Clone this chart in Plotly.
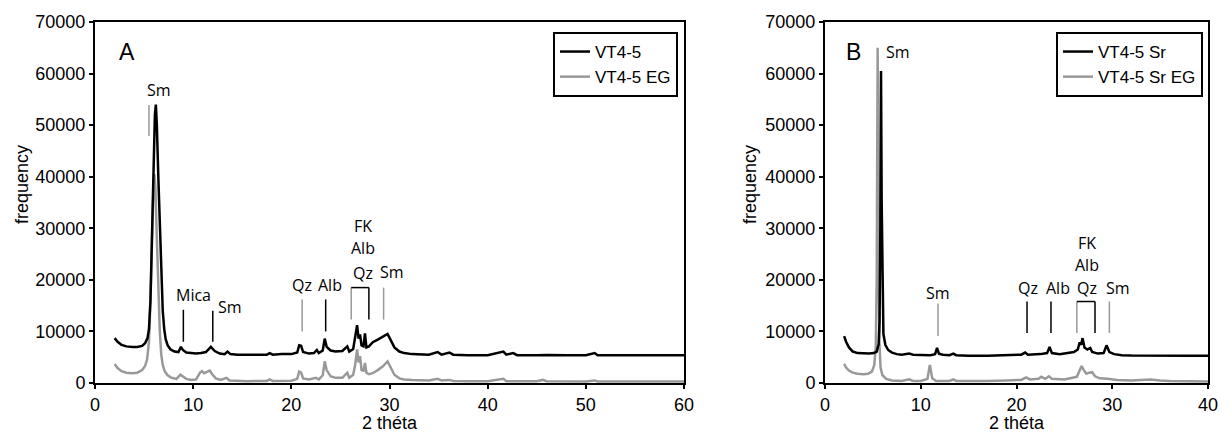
import plotly.graph_objects as go

# ---------------- Panel A data ----------------
a_black_x = [2.0, 2.3, 2.7, 3.2, 3.8, 4.3, 4.8, 5.1, 5.35, 5.5, 5.65, 5.8, 5.95, 6.1, 6.2, 6.3, 6.45, 6.6, 6.75, 6.9,
             7.05, 7.2, 7.4, 7.7, 8.1, 8.5, 8.75, 8.95, 9.3, 9.8, 10.3, 10.8, 11.3, 11.8, 12.2, 12.7, 13.2, 13.5, 13.8,
             14.5, 15.0, 15.5, 16.5, 17.5, 17.8, 18.1, 19.0, 20.0, 20.6, 20.8, 21.0, 21.2, 21.8, 22.3, 22.6, 22.8,
             23.2, 23.4, 23.6, 24.0, 24.5, 25.2, 25.7, 25.9, 26.3, 26.5, 26.7, 26.85, 27.0, 27.15, 27.35, 27.5, 27.65,
             27.9, 28.3, 28.8, 29.3, 29.8, 30.1, 30.5, 31.0, 31.5, 32.3, 33.0, 34.0, 34.9, 35.3, 36.1, 36.5, 38.0,
             40.0, 41.6, 41.9, 42.6, 43.0, 45.0, 46.0, 48.0, 50.0, 50.9, 51.2, 53.0, 55.0, 57.0, 60.0]
a_black_y = [8700, 8000, 7400, 7100, 7000, 7000, 7200, 7700, 8700, 10500, 16000, 28000, 42000, 52000, 54000, 50000,
             40000, 30000, 21000, 14000, 10500, 8500, 7300, 6500, 6100, 6000, 7000, 6400, 5900, 5800, 5700, 5800,
             6000, 7000, 6200, 5700, 5600, 6100, 5600, 5500, 5500, 5400, 5500, 5500, 5800, 5500, 5600, 5600, 5900,
             7300, 7200, 6000, 5700, 5800, 6400, 5800, 6300, 8600, 7000, 6300, 6100, 6200, 7100, 6100, 6600, 8600,
             11200, 8600, 9400, 7300, 7100, 9600, 6900, 7100, 7900, 8400, 8900, 9500, 8400, 6900, 6100, 5800, 5600,
             5500, 5500, 6000, 5500, 5900, 5500, 5400, 5400, 6100, 5500, 5800, 5400, 5400, 5450, 5400, 5400, 5800,
             5400, 5400, 5400, 5400, 5400]

a_grey_x = [2.0, 2.3, 2.7, 3.2, 3.8, 4.3, 4.8, 5.1, 5.3, 5.5, 5.65, 5.8, 5.95, 6.05, 6.15, 6.3, 6.45, 6.6, 6.75, 6.9,
            7.1, 7.4, 7.8, 8.3, 8.7, 8.9, 9.3, 9.8, 10.3, 10.7, 10.9, 11.1, 11.4, 11.7, 11.9, 12.3, 12.8, 13.4, 13.7,
            14.5, 15.5, 17.5, 17.8, 18.1, 19.0, 20.0, 20.6, 20.8, 21.0, 21.2, 21.8, 22.5, 22.8, 23.2, 23.4, 23.6,
            24.0, 24.5, 25.2, 25.7, 25.9, 26.3, 26.5, 26.7, 26.85, 27.0, 27.15, 27.35, 27.5, 27.65, 27.9, 28.3, 28.8,
            29.3, 29.8, 30.1, 30.5, 31.0, 31.5, 32.3, 33.0, 34.0, 34.9, 35.3, 36.1, 36.5, 38.0, 40.0, 41.6, 41.9,
            45.0, 45.6, 46.0, 48.0, 50.0, 50.9, 51.2, 55.0, 60.0]
a_grey_y = [3700, 2900, 2300, 2000, 1900, 2000, 2500, 3300, 4500, 8000, 16000, 28000, 38000, 40500, 38000, 28000,
            18000, 10000, 5500, 3500, 2300, 1500, 1000, 800, 1600, 1300, 800, 600, 700, 2000, 2300, 1900, 2200, 2400,
            1800, 900, 600, 1000, 500, 400, 350, 400, 700, 400, 400, 450, 800, 2200, 2000, 900, 700, 1000, 700,
            1500, 4200, 2500, 1300, 1000, 1000, 2000, 1000, 1600, 3500, 6500, 4000, 5200, 2500, 2400, 3900, 2000,
            1700, 1900, 2500, 3200, 4200, 3000, 1600, 900, 700, 600, 500, 500, 800, 500, 600, 400, 350, 350, 800,
            350, 350, 600, 350, 300, 300, 500, 300, 300, 300]

# ---------------- Panel B data ----------------
b_black_x = [2.0, 2.2, 2.5, 2.9, 3.4, 4.0, 4.6, 5.1, 5.4, 5.6, 5.7, 5.78, 5.85, 5.92, 6.0, 6.1, 6.3, 6.6, 7.0, 7.5,
             8.0, 8.8, 9.2, 10.0, 11.0, 11.5, 11.7, 11.9, 12.3, 13.0, 13.4, 13.7, 15.0, 17.0, 19.0, 20.5, 20.9, 21.2,
             22.5, 23.2, 23.45, 23.7, 24.5, 25.5, 26.0, 26.4, 26.6, 26.75, 26.9, 27.1, 27.4, 27.7, 27.9, 28.5, 29.1,
             29.4, 29.7, 30.2, 31.0, 32.0, 34.0, 36.0, 38.0, 40.0]
b_black_y = [9100, 8000, 6900, 6100, 5800, 5700, 5700, 5800, 6100, 7500, 12000, 30000, 60500, 35000, 15000, 9500,
             7400, 6400, 5900, 5600, 5500, 5700, 5500, 5400, 5400, 5600, 6800, 5700, 5500, 5400, 5700, 5400, 5300,
             5300, 5400, 5500, 5900, 5500, 5600, 5800, 7000, 5800, 5600, 5800, 6000, 6500, 7900, 7400, 8700, 6900,
             6500, 6800, 6000, 5700, 5800, 7300, 6000, 5600, 5400, 5350, 5300, 5300, 5300, 5300]

b_grey_x = [2.0, 2.2, 2.5, 2.9, 3.4, 4.0, 4.5, 4.9, 5.15, 5.3, 5.4, 5.5, 5.58, 5.68, 5.8, 6.0, 6.4, 7.0, 8.0, 8.8,
            9.2, 10.0, 10.7, 10.95, 11.2, 11.6, 13.0, 13.4, 13.7, 15.0, 17.0, 19.0, 20.5, 21.0, 21.4, 22.3, 22.6,
            23.0, 23.4, 23.7, 25.0, 26.3, 26.6, 26.8, 27.0, 27.3, 27.6, 27.9, 28.2, 28.7, 29.5, 30.5, 32.0, 34.0,
            35.0, 36.0, 38.0, 40.0]
b_grey_y = [3700, 3000, 2400, 2000, 1800, 1700, 1800, 2200, 3500, 7000, 20000, 65000, 30000, 8000, 3000, 1500, 800,
            500, 400, 700, 400, 400, 800, 3500, 900, 400, 400, 700, 400, 350, 400, 500, 600, 1100, 700, 800, 1200,
            800, 1300, 800, 700, 1200, 2500, 3300, 2600, 1800, 2000, 2100, 1300, 900, 800, 600, 500, 700, 500, 400,
            350, 300]

series_names = ["VT4-5", "VT4-5 EG", "VT4-5 Sr", "VT4-5 Sr EG"]

# ---------------- Peak labels ----------------
a_label_text = ["Sm", "Mica", "Sm", "Qz", "Alb", "FK", "Alb", "Qz", "Sm"]
a_label_x = [6.5, 10.0, 13.8, 21.1, 23.9, 27.3, 27.3, 27.3, 30.3]
a_label_y = [56800, 17100, 14800, 19000, 19000, 30500, 26100, 21400, 21600]
a_tick_x = [5.5, 9.0, 12.0, 21.1, 23.5, 26.1, 27.9, 29.4]
a_tick_y0 = [47900, 8000, 8000, 10000, 10000, 12300, 12300, 12300]
a_tick_y1 = [53900, 14200, 14000, 16200, 16200, 18500, 18500, 18500]
a_tick_c = ["grey", "black", "black", "grey", "black", "grey", "black", "grey"]

b_label_text = ["Sm", "Sm", "Qz", "Alb", "FK", "Alb", "Qz", "Sm"]
b_label_x = [7.6, 11.8, 21.2, 24.3, 27.4, 27.4, 27.4, 30.6]
b_label_y = [64200, 17500, 18500, 18500, 27200, 22800, 18500, 18500]
b_tick_x = [11.8, 21.1, 23.6, 26.3, 28.2, 29.7]
b_tick_y0 = [9100, 9700, 9700, 9700, 9700, 9700]
b_tick_y1 = [15400, 15800, 15800, 15800, 15800, 15800]
b_tick_c = ["grey", "black", "black", "grey", "black", "grey"]

panel_letters = ["A", "B"]

BLACK = "#000000"
GREY = "#999999"
W, H = 1229, 434
ARIAL = "Liberation Sans, Arial, sans-serif"


def px(xp):
    return xp / W


def py(yp):
    return 1 - yp / H


fig = go.Figure()
# grey first so black is drawn on top
fig.add_trace(go.Scatter(x=a_grey_x, y=a_grey_y, mode="lines", name=series_names[1],
                         line=dict(color=GREY, width=2.5), xaxis="x", yaxis="y", legend="legend"))
fig.add_trace(go.Scatter(x=a_black_x, y=a_black_y, mode="lines", name=series_names[0],
                         line=dict(color=BLACK, width=2.5), xaxis="x", yaxis="y", legend="legend"))
fig.add_trace(go.Scatter(x=b_grey_x, y=b_grey_y, mode="lines", name=series_names[3],
                         line=dict(color=GREY, width=2.5), xaxis="x2", yaxis="y2", legend="legend2"))
fig.add_trace(go.Scatter(x=b_black_x, y=b_black_y, mode="lines", name=series_names[2],
                         line=dict(color=BLACK, width=2.5), xaxis="x2", yaxis="y2", legend="legend2"))

ytop = py(22)
ybot = py(383)
tickfont = dict(family=ARIAL, size=18, color="black")
axis_common = dict(showline=True, linecolor="black", linewidth=2, mirror=True, showgrid=False, zeroline=False,
                   ticks="outside", ticklen=4, tickwidth=1.5, tickcolor="black", tickfont=tickfont,
                   automargin=False, tickformat="d")

legfont = dict(family=ARIAL, size=17, color="black")
fig.update_layout(
    width=W, height=H,
    margin=dict(l=0, r=0, t=0, b=0, autoexpand=False),
    paper_bgcolor="white", plot_bgcolor="white",
    xaxis=dict(domain=[px(95), px(684)], range=[0, 60], dtick=10, anchor="y", **axis_common),
    yaxis=dict(domain=[ybot, ytop], range=[0, 70000], dtick=10000, anchor="x", **axis_common),
    xaxis2=dict(domain=[px(825), px(1208)], range=[0, 40], dtick=10, anchor="y2", **axis_common),
    yaxis2=dict(domain=[ybot, ytop], range=[0, 70000], dtick=10000, anchor="x2", **axis_common),
    legend=dict(x=px(678), xanchor="right", y=py(32), yanchor="top", bgcolor="white",
                bordercolor="black", borderwidth=2, font=legfont, itemwidth=30,
                tracegroupgap=0, traceorder="reversed"),
    legend2=dict(x=px(1203), xanchor="right", y=py(32), yanchor="top", bgcolor="white",
                 bordercolor="black", borderwidth=2, font=legfont, itemwidth=30,
                 tracegroupgap=0, traceorder="reversed"),
    showlegend=True,
)

annots = []
lblfont = dict(family="Open Sans", size=16, color="black")
for t, x, y in zip(a_label_text, a_label_x, a_label_y):
    annots.append(dict(text=t, x=x, y=y, xref="x", yref="y", showarrow=False, font=lblfont,
                       xanchor="center", yanchor="middle"))
for t, x, y in zip(b_label_text, b_label_x, b_label_y):
    annots.append(dict(text=t, x=x, y=y, xref="x2", yref="y2", showarrow=False, font=lblfont,
                       xanchor="center", yanchor="middle"))

# panel letters
letfont = dict(family=ARIAL, size=23, color="black")
annots.append(dict(text=panel_letters[0], x=3.3, y=64200, xref="x", yref="y", showarrow=False, font=letfont,
                   xanchor="center", yanchor="middle"))
annots.append(dict(text=panel_letters[1], x=3.0, y=64200, xref="x2", yref="y2", showarrow=False, font=letfont,
                   xanchor="center", yanchor="middle"))

# axis titles
ttl = dict(family=ARIAL, size=18, color="black")
annots.append(dict(text="frequency", x=px(22), y=py(185), xref="paper", yref="paper",
                   showarrow=False, textangle=-90, font=ttl, xanchor="center", yanchor="middle"))
annots.append(dict(text="frequency", x=px(750), y=py(185), xref="paper", yref="paper",
                   showarrow=False, textangle=-90, font=ttl, xanchor="center", yanchor="middle"))
annots.append(dict(text="2 théta", x=30, y=py(423), xref="x", yref="paper", showarrow=False, font=ttl,
                   xanchor="center", yanchor="middle"))
annots.append(dict(text="2 théta", x=20, y=py(423), xref="x2", yref="paper", showarrow=False, font=ttl,
                   xanchor="center", yanchor="middle"))
fig.update_layout(annotations=annots)

shapes = []
for x, y0, y1, c in zip(a_tick_x, a_tick_y0, a_tick_y1, a_tick_c):
    shapes.append(dict(type="line", x0=x, x1=x, y0=y0, y1=y1, xref="x", yref="y",
                       line=dict(color=BLACK if c == "black" else GREY, width=1.5)))
for x, y0, y1, c in zip(b_tick_x, b_tick_y0, b_tick_y1, b_tick_c):
    shapes.append(dict(type="line", x0=x, x1=x, y0=y0, y1=y1, xref="x2", yref="y2",
                       line=dict(color=BLACK if c == "black" else GREY, width=1.5)))
# bracket top bars
shapes.append(dict(type="line", x0=a_tick_x[5], x1=a_tick_x[6], y0=a_tick_y1[5], y1=a_tick_y1[5],
                   xref="x", yref="y", line=dict(color=BLACK, width=1.5)))
shapes.append(dict(type="line", x0=b_tick_x[3], x1=b_tick_x[4], y0=b_tick_y1[3], y1=b_tick_y1[3],
                   xref="x2", yref="y2", line=dict(color=BLACK, width=1.5)))
fig.update_layout(shapes=shapes)

# remove the default 8px page margin so the figure fills the window exactly
fig.write_html("out.html", config={"displayModeBar": False},
               post_script="document.body.style.margin='0px';")
